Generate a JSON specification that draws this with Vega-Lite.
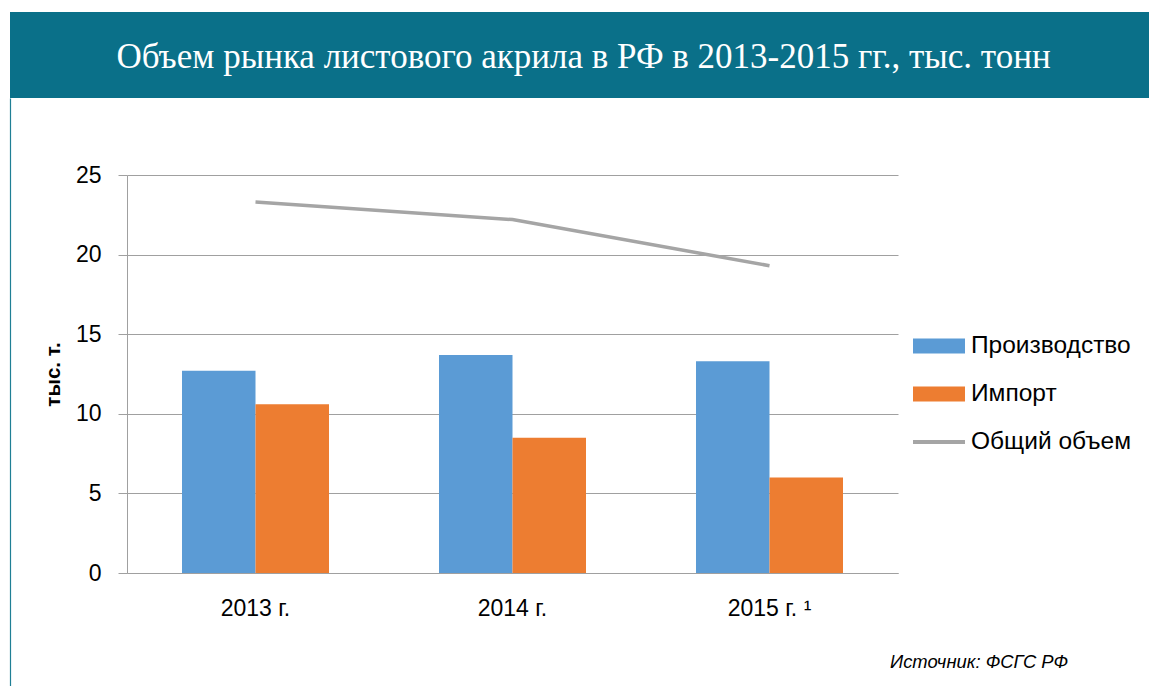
{
  "$schema": "https://vega.github.io/schema/vega-lite/v6.json",
  "background": "white",
  "padding": {"left": 10, "top": 12, "right": 0, "bottom": 0},
  "autosize": {"type": "pad"},
  "bounds": "flush",
  "spacing": 0,
  "config": {"view": {"stroke": null}, "font": "Liberation Sans"},
  "datasets": {
    "bars": [
      {"year": "2013 г.", "series": "Производство", "value": 12.7},
      {"year": "2013 г.", "series": "Импорт", "value": 10.6},
      {"year": "2014 г.", "series": "Производство", "value": 13.7},
      {"year": "2014 г.", "series": "Импорт", "value": 8.5},
      {"year": "2015 г. ¹", "series": "Производство", "value": 13.3},
      {"year": "2015 г. ¹", "series": "Импорт", "value": 6.0}
    ],
    "total": [
      {"year": "2013 г.", "series": "Общий объем", "value": 23.3},
      {"year": "2014 г.", "series": "Общий объем", "value": 22.2},
      {"year": "2015 г. ¹", "series": "Общий объем", "value": 19.3}
    ],
    "header": [
      {"title": "Объем рынка листового акрила в РФ в 2013-2015 гг., тыс. тонн"}
    ],
    "blank": [
      {"t": ""}
    ]
  },
  "vconcat": [
    {
      "width": 1139,
      "height": 86,
      "view": {"fill": "#0A7089", "stroke": null},
      "data": {"name": "header"},
      "mark": {"type": "text", "font": "Liberation Serif", "fontSize": 35, "color": "white", "baseline": "alphabetic", "dy": 13, "dx": 4},
      "encoding": {
        "y": {"field": "title", "type": "nominal", "axis": null},
        "text": {"field": "title"}
      }
    },
    {
      "bounds": "flush",
      "spacing": 0,
      "hconcat": [
        {
          "width": 117,
          "height": 588,
          "view": {"stroke": null},
          "data": {"name": "blank"},
          "mark": {"type": "text"},
          "encoding": {
            "y": {"field": "t", "type": "nominal", "axis": {"labels": false, "ticks": false, "title": null, "grid": false, "domainColor": "#1F7F95", "domainWidth": 1.2, "offset": 0}},
            "text": {"field": "t"}
          }
        },
        {
          "bounds": "flush",
          "spacing": 0,
          "vconcat": [
            {
              "width": 771,
              "height": 77,
              "view": {"stroke": null},
              "data": {"name": "blank"},
              "mark": {"type": "text"},
              "encoding": {"text": {"field": "t"}}
            },
            {
              "width": 771,
              "height": 398,
              "title": {"text": "Источник: ФСГС РФ", "orient": "bottom", "anchor": "end", "frame": "group", "dx": 170, "offset": 32, "fontSize": 18.4, "fontStyle": "italic", "fontWeight": "normal", "color": "black", "font": "Liberation Sans"},
              "encoding": {
                "color": {"field": "series", "type": "nominal",
                  "scale": {"domain": ["Производство", "Импорт", "Общий объем"], "range": ["#5B9BD5", "#ED7D31", "#A5A5A5"]},
                  "legend": {"orient": "none", "legendX": 903, "legendY": 308, "title": null, "padding": 0, "labelFontSize": 24.5, "labelLimit": 400, "labelColor": "black", "labelOffset": 6, "rowPadding": 10, "symbolSize": 2704, "symbolType": "M-1,-0.29H1V0.29H-1Z", "symbolStrokeWidth": 0,
                    "encode": {"symbols": {"update": {
                      "shape": {"signal": "datum.value === 'Общий объем' ? 'M-1,-0.077H1V0.077H-1Z' : 'M-1,-0.29H1V0.29H-1Z'"},
                      "fill": {"scale": "color", "field": "value"},
                      "strokeWidth": {"value": 0},
                      "opacity": {"value": 1}
                    }}}}}
              },
              "layer": [
                {
                  "data": {"name": "bars"},
                  "mark": {"type": "bar"},
                  "encoding": {
                    "x": {"field": "year", "type": "nominal", "sort": null, "scale": {"paddingInner": 0.428, "paddingOuter": 0.214},
                      "axis": {"title": null, "labelAngle": 0, "ticks": false, "labelFontSize": 23, "labelColor": "black", "labelPadding": 24.5, "domainColor": "#A0A0A0", "grid": false}},
                    "xOffset": {"field": "series", "sort": ["Производство", "Импорт"], "scale": {"paddingInner": 0, "paddingOuter": 0}},
                    "y": {"field": "value", "type": "quantitative", "scale": {"domain": [0, 25], "nice": false, "zero": true},
                      "axis": {"values": [0, 5, 10, 15, 20, 25], "title": "тыс. т.", "titleFont": "Liberation Sans", "titleFontWeight": "bold", "titleFontSize": 20.5, "titleColor": "black", "titlePadding": 12, "labelFontSize": 23, "labelColor": "black", "labelPadding": 17, "tickSize": 9, "domainColor": "#A0A0A0", "tickColor": "#A0A0A0", "gridColor": "#A0A0A0", "grid": true}}
                  }
                },
                {
                  "data": {"name": "total"},
                  "mark": {"type": "line", "strokeWidth": 3.5},
                  "encoding": {
                    "x": {"field": "year", "type": "nominal", "sort": null},
                    "y": {"field": "value", "type": "quantitative", "scale": {"domain": [0, 25], "nice": false, "zero": true}}
                  }
                }
              ]
            }
          ]
        }
      ]
    }
  ]
}
